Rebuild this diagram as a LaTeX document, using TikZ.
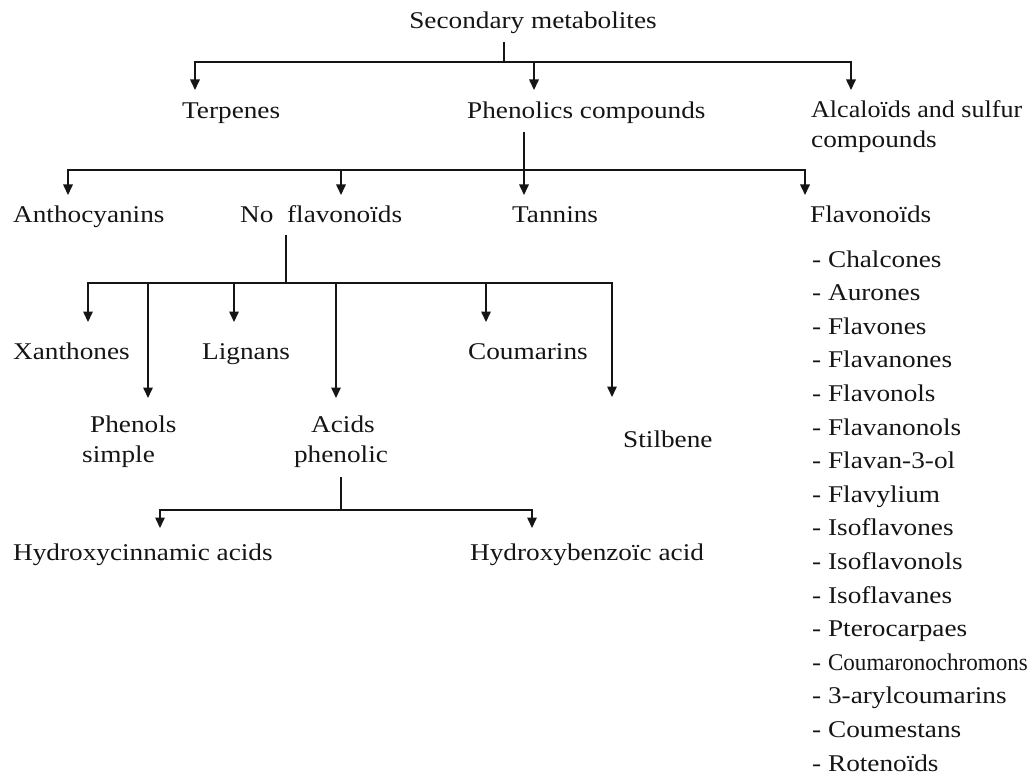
\documentclass[tikz,border=0pt]{standalone}
\usepackage{graphicx}
\usepackage{fontspec}
\setmainfont{Liberation Serif}[FakeStretch=1.135]
\newfontfamily\narrowserif{Liberation Serif}[FakeStretch=0.96]
\usetikzlibrary{arrows.meta}
\definecolor{ink}{HTML}{151515}
\newcommand{\squeeze}[2]{\scalebox{#1}[1]{#2}}
\begin{document}
\begin{tikzpicture}[x=1pt,y=-1pt,
  lbl/.style={inner sep=0pt,anchor=base west,text=ink,font=\fontsize{24}{30}\selectfont},
  clbl/.style={lbl,anchor=base},
  link/.style={draw=ink,line width=1.6pt},
  arrowlink/.style={link,-{Triangle[width=9.5pt,length=10.5pt]}}]
\useasboundingbox[fill=white] (0,0) rectangle (1035,778);

% ---- labels ----
\node[clbl] (sec) at (533,29) {Secondary metabolites};
\node[lbl] (terp) at (182,119) {Terpenes};
\node[lbl] (phen) at (467,119) {Phenolics compounds};
\node[lbl] (alca) at (811,118) {\squeeze{0.955}{Alcaloïds and sulfur}};
\node[lbl] (alcb) at (811,148) {compounds};

\node[lbl] (antho) at (13,222) {Anthocyanins};
\node[lbl] (nofl) at (240,222) {No\ \ flavonoïds};
\node[lbl] (tann) at (512,222) {Tannins};
\node[lbl] (flav) at (810,222) {Flavonoïds};

\foreach \t [count=\i from 0] in {Chalcones,Aurones,Flavones,Flavanones,Flavonols,
  Flavanonols,Flavan-3-ol,Flavylium,Isoflavones,Isoflavonols,Isoflavanes,
  Pterocarpaes,{\narrowserif Coumaronochromons},3-arylcoumarins,Coumestans,Rotenoïds}
  \node[lbl] (fl\i) at (812,267+33.6*\i) {- \t};

\node[lbl] (xan) at (13,359) {Xanthones};
\node[lbl] (lig) at (202,359) {Lignans};
\node[lbl] (cou) at (468,359) {Coumarins};
\node[lbl] (phsa) at (90,432) {Phenols};
\node[lbl] (phsb) at (82,462) {simple};
\node[clbl] (acpa) at (343,432) {Acids};
\node[clbl] (acpb) at (341,462) {phenolic};
\node[lbl] (stil) at (623,447) {Stilbene};

\node[lbl] (hcin) at (13,560) {Hydroxycinnamic acids};
\node[lbl] (hben) at (470,560) {Hydroxybenzoïc acid};

% ---- stems, junctions and arrow tips ----
\coordinate (s1) at (504,42);  \coordinate (j1) at (504,62);
\coordinate (tTerp) at (195,90); \coordinate (tPhen) at (534,90); \coordinate (tAlc) at (851,90);

\coordinate (s2) at (524,132); \coordinate (j2) at (524,170);
\coordinate (tAntho) at (68,195); \coordinate (tNofl) at (341,195);
\coordinate (tTann) at (524,195); \coordinate (tFlav) at (805,195);

\coordinate (s3) at (286,235); \coordinate (j3) at (286,283);
\coordinate (tXan) at (88,322); \coordinate (tPhs) at (148,398);
\coordinate (tLig) at (234,322); \coordinate (tAcp) at (336,398);
\coordinate (tCou) at (486,322); \coordinate (tStil) at (612,397);

\coordinate (s4) at (341,477); \coordinate (j4) at (341,510);
\coordinate (tHcin) at (160,528); \coordinate (tHben) at (532,528);

% ---- connectors ----
\draw[link] (s1) -- (j1);
\foreach \t in {tTerp,tPhen,tAlc} \draw[arrowlink] (j1) -| (\t);

\draw[link] (s2) -- (j2);
\foreach \t in {tAntho,tNofl,tTann,tFlav} \draw[arrowlink] (j2) -| (\t);

\draw[link] (s3) -- (j3);
\foreach \t in {tXan,tPhs,tLig,tAcp,tCou,tStil} \draw[arrowlink] (j3) -| (\t);

\draw[link] (s4) -- (j4);
\foreach \t in {tHcin,tHben} \draw[arrowlink] (j4) -| (\t);
\end{tikzpicture}
\end{document}
